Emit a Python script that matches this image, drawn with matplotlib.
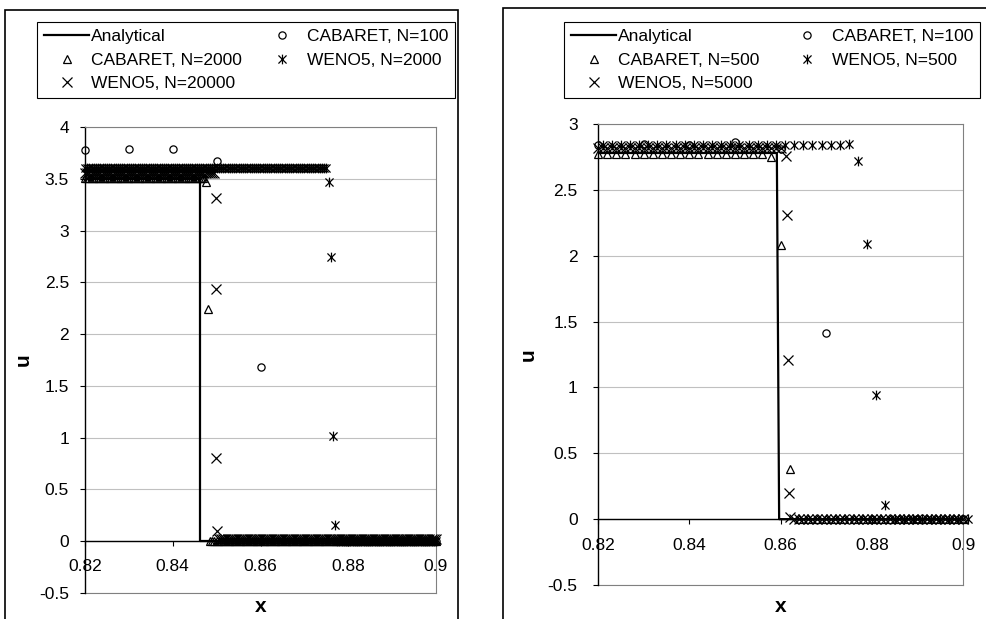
import numpy as np
import matplotlib
matplotlib.use("Agg")
import matplotlib.pyplot as plt
from matplotlib.path import Path
from matplotlib.patches import Rectangle
from matplotlib.ticker import FormatStrFormatter

plt.rcParams['font.family'] = ['Liberation Sans', 'DejaVu Sans']

# ---------------- left panel data ----------------
L_an_x = [0.82, 0.8461, 0.8461, 0.9]
L_an_u = [3.5, 3.5, 0.0, 0.0]

L_c100_x = [0.82, 0.83, 0.84, 0.85, 0.86, 0.87, 0.88, 0.89, 0.90]
L_c100_u = [3.78, 3.79, 3.79, 3.67, 1.68, 0.0, 0.0, 0.0, 0.0]

# CABARET N=2000: plateau level, shock points, level behind the shock
L_c2000_dx = 0.0005
L_c2000_hi = 3.51
L_c2000_shock_x = [0.8475, 0.848]
L_c2000_shock_u = [3.47, 2.24]
L_c2000_lo = 0.0

# WENO5 N=2000
L_w2000_dx = 0.0005
L_w2000_hi = 3.60
L_w2000_shock_x = [0.8755, 0.876, 0.8765, 0.877]
L_w2000_shock_u = [3.47, 2.74, 1.02, 0.16]
L_w2000_lo = 0.0

# WENO5 N=20000 (shown every 10th cell on the plateaus)
L_w20000_dx = 0.0005
L_w20000_hi = 3.56
L_w20000_shock_x = [0.84985, 0.8499, 0.84995, 0.8500]
L_w20000_shock_u = [3.31, 2.44, 0.80, 0.10]
L_w20000_lo = 0.02

L_labels = ['Analytical', 'CABARET, N=100', 'CABARET, N=2000',
            'WENO5, N=2000', 'WENO5, N=20000']

# ---------------- right panel data ----------------
R_an_x = [0.82, 0.8592, 0.8597, 0.9]
R_an_u = [2.78, 2.78, 0.0, 0.0]

R_c100_x = [0.82, 0.83, 0.84, 0.85, 0.86, 0.87, 0.88, 0.89, 0.90]
R_c100_u = [2.84, 2.85, 2.84, 2.86, 2.81, 1.41, 0.0, 0.0, 0.0]

R_c500_dx = 0.002
R_c500_hi = 2.77
R_c500_shock_x = [0.858, 0.860, 0.862]
R_c500_shock_u = [2.75, 2.08, 0.38]
R_c500_lo = 0.0

R_w500_dx = 0.002
R_w500_hi = 2.84
R_w500_shock_x = [0.875, 0.877, 0.879, 0.881, 0.883]
R_w500_shock_u = [2.85, 2.72, 2.09, 0.94, 0.11]
R_w500_lo = 0.0

R_w5000_dx = 0.001
R_w5000_hi = 2.82
R_w5000_shock_x = [0.8612, 0.8614, 0.8616, 0.8618, 0.8620]
R_w5000_shock_u = [2.76, 2.31, 1.21, 0.20, 0.02]
R_w5000_lo = 0.0

R_labels = ['Analytical', 'CABARET, N=100', 'CABARET, N=500',
            'WENO5, N=500', 'WENO5, N=5000']

X0, X1 = 0.82, 0.9
FS = 12.5


def shock_profile(dx, hi, sx, su, lo, start=X0):
    """Grid points of a captured shock: plateau, shock points, zero state."""
    xl = np.arange(start, sx[0] - dx * 0.5, dx)
    xr = np.arange(sx[-1] + dx, X1 + dx * 0.5, dx)
    x = np.concatenate([xl, sx, xr])
    u = np.concatenate([np.full(len(xl), hi), su, np.full(len(xr), lo)])
    return x, u


# Excel-like asterisk marker: an x with a vertical bar
star = Path([(-1, -1), (1, 1), (-1, 1), (1, -1), (0, -1.2), (0, 1.2)],
            [Path.MOVETO, Path.LINETO, Path.MOVETO, Path.LINETO,
             Path.MOVETO, Path.LINETO])

mk = dict(linestyle='none', color='black', mfc='none', mew=0.9,
          clip_on=False, zorder=3)


def style_axes(ax, ymin, ymax, ypad, xpad):
    ax.set_xlim(X0, X1)
    ax.set_ylim(ymin, ymax)
    ax.set_xticks([0.82, 0.84, 0.86, 0.88, 0.9])
    ax.set_yticks(np.arange(ymin, ymax + 0.01, 0.5))
    ax.xaxis.set_major_formatter(FormatStrFormatter('%g'))
    ax.yaxis.set_major_formatter(FormatStrFormatter('%g'))
    ax.spines['left'].set_color('black')
    ax.spines['left'].set_linewidth(1.0)
    for s in ['top', 'right']:
        ax.spines[s].set_color('#808080')
        ax.spines[s].set_linewidth(0.8)
    ax.spines['bottom'].set_position(('data', 0))
    ax.spines['bottom'].set_color('black')
    ax.spines['bottom'].set_linewidth(1.0)
    ax.plot([0, 1], [0, 0], transform=ax.transAxes, color='#808080',
            lw=0.8, clip_on=False, zorder=1)
    ax.tick_params(axis='x', direction='out', length=3.6, width=0.8,
                   labelsize=FS, pad=xpad)
    ax.tick_params(axis='y', direction='out', length=3.6, width=0.8,
                   labelsize=FS, pad=ypad)
    ax.yaxis.grid(True, color='#c0c0c0', lw=0.8)
    ax.set_axisbelow(True)


def add_legend(ax, handles, labels, box):
    order = [0, 2, 4, 1, 3]
    leg = ax.legend([handles[i] for i in order], [labels[i] for i in order],
                    ncol=2, loc='center', bbox_to_anchor=box,
                    bbox_transform=fig.transFigure, mode='expand', fontsize=FS,
                    frameon=True, fancybox=False, edgecolor='black',
                    framealpha=1, handlelength=2.6, handletextpad=0.1,
                    borderaxespad=0, labelspacing=0.5, borderpad=0.4,
                    columnspacing=0.5)
    leg.get_frame().set_linewidth(0.8)


fig = plt.figure(figsize=(9.86, 6.19), dpi=100)

# chart area frames
fig.patches.append(Rectangle((5 / 986, -0.02), 453 / 986, 1 - 10 / 619 + 0.02,
                             transform=fig.transFigure, fill=False,
                             edgecolor='black', lw=1.2))
fig.patches.append(Rectangle((503 / 986, -0.02), 490 / 986, 1 - 8 / 619 + 0.02,
                             transform=fig.transFigure, fill=False,
                             edgecolor='black', lw=1.2))

# ---------------- left panel ----------------
axL = fig.add_axes([85 / 986, 1 - 593 / 619, 351 / 986, 466 / 619])
style_axes(axL, -0.5, 4.0, ypad=8, xpad=9)

hL = []
hL += axL.plot(L_an_x, L_an_u, color='black', lw=1.6, zorder=2)
hL += axL.plot(L_c100_x, L_c100_u, marker='o', ms=5.2, **mk)
x, u = shock_profile(L_c2000_dx, L_c2000_hi, L_c2000_shock_x,
                     L_c2000_shock_u, L_c2000_lo)
hL += axL.plot(x, u, marker='^', ms=6.2, **mk)
x, u = shock_profile(L_w2000_dx, L_w2000_hi, L_w2000_shock_x,
                     L_w2000_shock_u, L_w2000_lo)
hL += axL.plot(x, u, marker=star, ms=7, **mk)
x, u = shock_profile(L_w20000_dx, L_w20000_hi, L_w20000_shock_x,
                     L_w20000_shock_u, L_w20000_lo)
hL += axL.plot(x, u, marker='x', ms=6.5, **mk)

axL.set_xlabel('x', fontsize=15, fontweight='bold')
axL.xaxis.set_label_coords(0.5, -0.008)
axL.set_ylabel('u', fontsize=15, fontweight='bold')
axL.yaxis.set_label_coords(-0.15, 0.5)
add_legend(axL, hL, L_labels, (37 / 986, 1 - 107 / 619, 418 / 986, 94 / 619))

# ---------------- right panel ----------------
axR = fig.add_axes([598 / 986, 1 - 585 / 619, 365 / 986, 461 / 619])
style_axes(axR, -0.5, 3.0, ypad=11, xpad=10)

hR = []
hR += axR.plot(R_an_x, R_an_u, color='black', lw=1.6, zorder=2)
hR += axR.plot(R_c100_x, R_c100_u, marker='o', ms=5.2, **mk)
x, u = shock_profile(R_c500_dx, R_c500_hi, R_c500_shock_x,
                     R_c500_shock_u, R_c500_lo)
hR += axR.plot(x, u, marker='^', ms=6.2, **mk)
x, u = shock_profile(R_w500_dx, R_w500_hi, R_w500_shock_x,
                     R_w500_shock_u, R_w500_lo, start=0.821)
hR += axR.plot(x, u, marker=star, ms=7, **mk)
x, u = shock_profile(R_w5000_dx, R_w5000_hi, R_w5000_shock_x,
                     R_w5000_shock_u, R_w5000_lo)
hR += axR.plot(x, u, marker='x', ms=6.5, **mk)

axR.set_xlabel('x', fontsize=15, fontweight='bold')
axR.xaxis.set_label_coords(0.5, -0.026)
axR.set_ylabel('u', fontsize=15, fontweight='bold')
axR.yaxis.set_label_coords(-0.165, 0.5)
add_legend(axR, hR, R_labels, (564 / 986, 1 - 107 / 619, 416 / 986, 94 / 619))

fig.savefig('out.png', dpi=100)
